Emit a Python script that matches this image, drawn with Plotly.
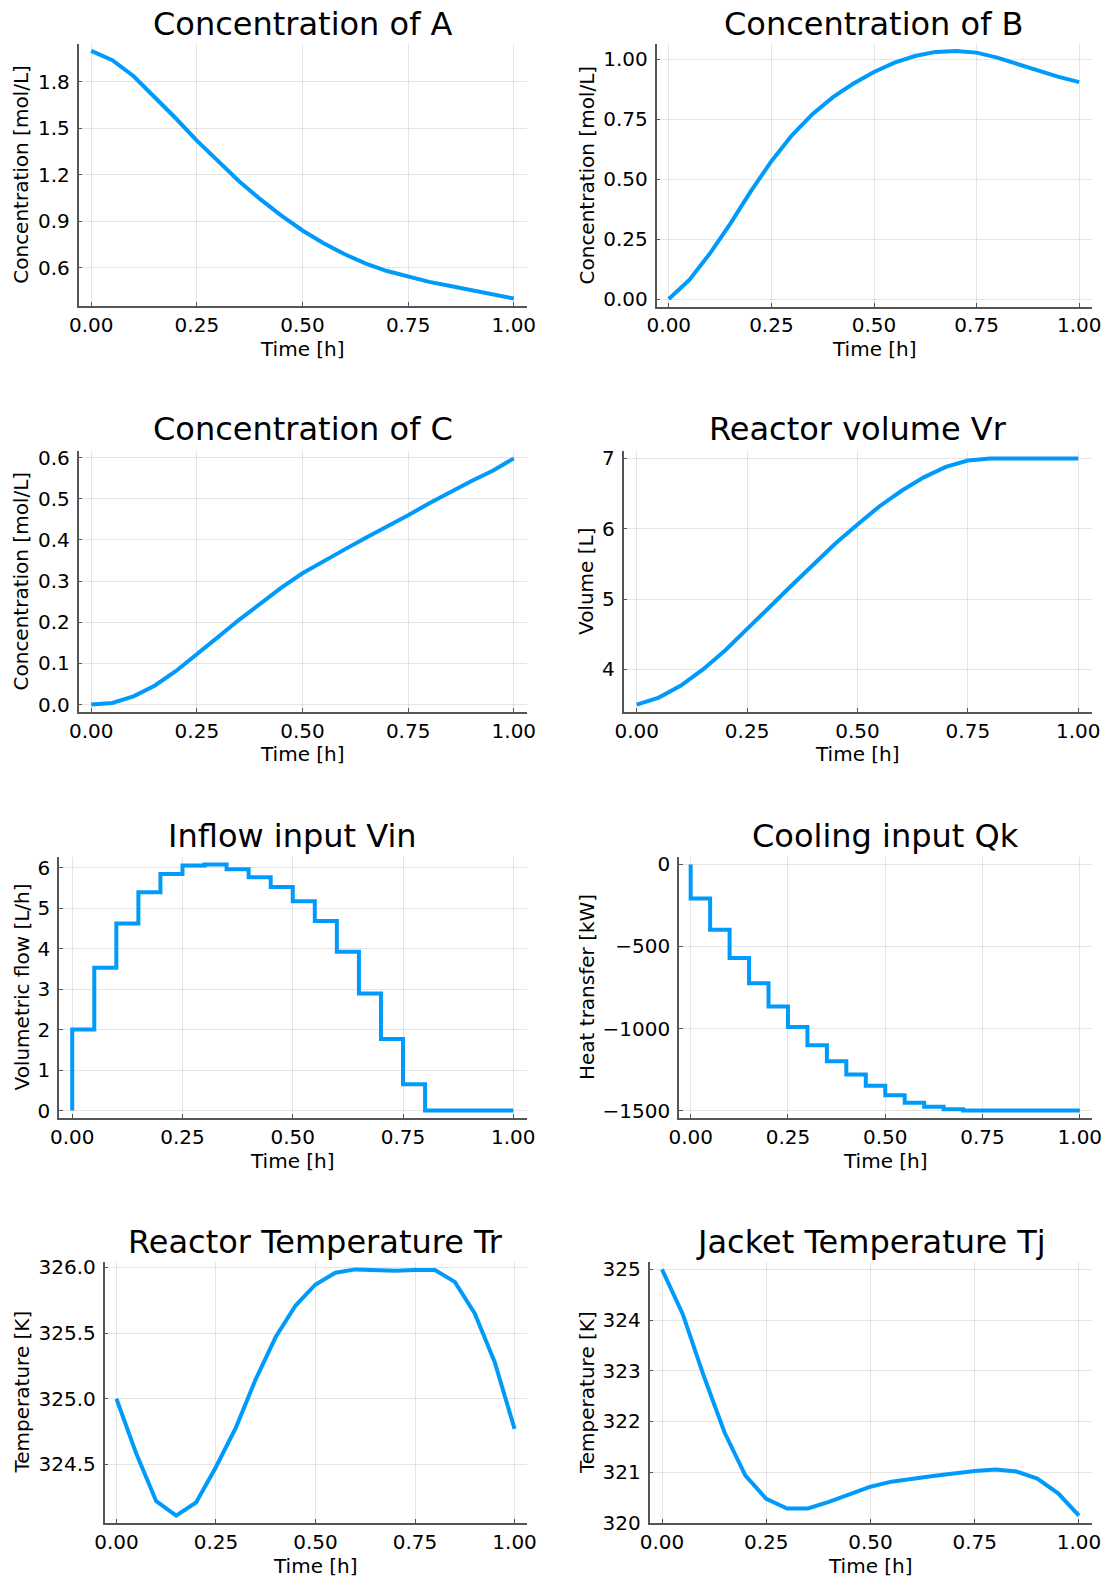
import plotly.graph_objects as go

W, H = 1106, 1580

time = [0.0, 0.05, 0.1, 0.15, 0.2, 0.25, 0.3, 0.35, 0.4, 0.45, 0.5,
        0.55, 0.6, 0.65, 0.7, 0.75, 0.8, 0.85, 0.9, 0.95, 1.0]

conc_A = [2.0, 1.94, 1.838, 1.705, 1.565, 1.42, 1.285, 1.158, 1.042, 0.936, 0.84,
          0.757, 0.686, 0.626, 0.578, 0.54, 0.508, 0.481, 0.456, 0.43, 0.40]
conc_B = [0.0, 0.08, 0.19, 0.315, 0.45, 0.575, 0.683, 0.771, 0.842, 0.899, 0.947,
          0.986, 1.014, 1.031, 1.035, 1.028, 1.007, 0.979, 0.953, 0.927, 0.905]
conc_C = [0.0, 0.004, 0.02, 0.046, 0.081, 0.121, 0.164, 0.206, 0.246, 0.284, 0.319,
          0.349, 0.377, 0.405, 0.432, 0.46, 0.489, 0.517, 0.543, 0.568, 0.598]
volume_Vr = [3.5, 3.6, 3.77, 4.0, 4.27, 4.57, 4.88, 5.19, 5.5, 5.79, 6.06,
             6.32, 6.54, 6.73, 6.88, 6.97, 7.0, 7.0, 7.0, 7.0, 7.0]
inflow_Vin = [0.0, 2.0, 3.53, 4.62, 5.39, 5.84, 6.05, 6.08, 5.96, 5.76, 5.52,
              5.17, 4.68, 3.92, 2.89, 1.77, 0.65, 0.0, 0.0, 0.0, 0.0]
cooling_Qk = [0, -208, -398, -570, -724, -865, -991, -1102, -1199, -1280, -1349,
              -1407, -1452, -1476, -1492, -1500, -1500, -1500, -1500, -1500, -1500]
temp_Tr = [325.0, 324.58, 324.22, 324.11, 324.21, 324.48, 324.78, 325.15, 325.47, 325.71, 325.87,
           325.96, 325.985, 325.98, 325.975, 325.98, 325.98, 325.89, 325.65, 325.28, 324.77]
temp_Tj = [325.0, 324.11, 322.9, 321.78, 320.93, 320.47, 320.28, 320.28, 320.41, 320.56, 320.71,
           320.81, 320.875, 320.92, 320.97, 321.02, 321.05, 321.01, 320.87, 320.58, 320.14]

x_ticks = [0.0, 0.25, 0.5, 0.75, 1.0]
x_ticktext = ["0.00", "0.25", "0.50", "0.75", "1.00"]

titles = ["Concentration of A", "Concentration of B", "Concentration of C", "Reactor volume Vr",
          "Inflow input Vin", "Cooling input Qk", "Reactor Temperature Tr", "Jacket Temperature Tj"]
ylabels = ["Concentration [mol/L]", "Concentration [mol/L]", "Concentration [mol/L]", "Volume [L]",
           "Volumetric flow [L/h]", "Heat transfer [kW]", "Temperature [K]", "Temperature [K]"]
xlabel = "Time [h]"

y_ticks = [
    [0.6, 0.9, 1.2, 1.5, 1.8],
    [0.0, 0.25, 0.5, 0.75, 1.0],
    [0.0, 0.1, 0.2, 0.3, 0.4, 0.5, 0.6],
    [4, 5, 6, 7],
    [0, 1, 2, 3, 4, 5, 6],
    [0, -500, -1000, -1500],
    [324.5, 325.0, 325.5, 326.0],
    [320, 321, 322, 323, 324, 325],
]
y_ticktext = [
    ["0.6", "0.9", "1.2", "1.5", "1.8"],
    ["0.00", "0.25", "0.50", "0.75", "1.00"],
    ["0.0", "0.1", "0.2", "0.3", "0.4", "0.5", "0.6"],
    ["4", "5", "6", "7"],
    ["0", "1", "2", "3", "4", "5", "6"],
    ["0", "\u2212500", "\u22121000", "\u22121500"],
    ["324.5", "325.0", "325.5", "326.0"],
    ["320", "321", "322", "323", "324", "325"],
]

series = [conc_A, conc_B, conc_C, volume_Vr, inflow_Vin, cooling_Qk, temp_Tr, temp_Tj]
shapes_line = ["linear", "linear", "linear", "linear", "vh", "vh", "linear", "linear"]

# plot areas in pixels: (left, right, top, bottom)
boxes = [
    (78.5, 526.5, 43.5, 306), (656.5, 1091.5, 43.5, 306.5),
    (78.5, 526.5, 451, 712), (623.5, 1091.5, 451, 712),
    (59, 526.5, 857, 1118), (679, 1091.5, 857, 1118),
    (104.5, 526.5, 1262, 1523), (649.5, 1091.5, 1262, 1523),
]
title_y = [24.5, 24.5, 429, 429, 836, 836, 1241.5, 1241.5]
xlabel_y = [349, 349, 754, 754, 1161, 1161, 1566, 1566]
ylabel_x = [21, 586.5, 21, 586.5, 21, 586.5, 21, 586.5]

BLUE = "rgb(0,154,250)"
FONT = "DejaVu Sans"

def padded(vals):
    lo, hi = min(vals), max(vals)
    p = 0.03 * (hi - lo)
    return [lo - p, hi + p]

fig = go.Figure()
layout = dict(template="none", width=W, height=H, autosize=False,
              margin=dict(l=0, r=0, t=0, b=0, pad=0, autoexpand=False),
              paper_bgcolor="white", plot_bgcolor="white", showlegend=False,
              font=dict(family=FONT, color="black"))
annotations = []

for i in range(8):
    l, r, tp, bt = boxes[i]
    xa = "xaxis" if i == 0 else f"xaxis{i+1}"
    ya = "yaxis" if i == 0 else f"yaxis{i+1}"
    xr = "x" if i == 0 else f"x{i+1}"
    yr = "y" if i == 0 else f"y{i+1}"
    fig.add_trace(go.Scatter(x=time, y=series[i], mode="lines", xaxis=xr, yaxis=yr,
                             line=dict(color=BLUE, width=4, shape=shapes_line[i]),
                             hoverinfo="skip"))
    common = dict(showgrid=True, gridcolor="rgba(0,0,0,0.1)", gridwidth=1,
                  zeroline=False, showline=True, linecolor="#555555", linewidth=1.5,
                  ticks="inside", ticklen=4, tickwidth=1, tickcolor="#555555",
                  automargin=False,
                  tickfont=dict(size=20, family=FONT, color="black"))
    layout[xa] = dict(common, domain=[l / W, r / W], anchor=yr, range=[-0.03, 1.03],
                      tickmode="array", tickvals=x_ticks, ticktext=x_ticktext)
    layout[ya] = dict(common, domain=[1 - bt / H, 1 - tp / H], anchor=xr,
                      range=padded(series[i]), ticklabelstandoff=3,
                      tickmode="array", tickvals=y_ticks[i], ticktext=y_ticktext[i])
    cx = (l + r) / 2 / W
    annotations.append(dict(text=titles[i], x=cx, y=1 - title_y[i] / H, xref="paper", yref="paper",
                            xanchor="center", yanchor="middle", showarrow=False,
                            font=dict(size=32, family=FONT, color="black")))
    annotations.append(dict(text=xlabel, x=cx, y=1 - xlabel_y[i] / H, xref="paper", yref="paper",
                            xanchor="center", yanchor="middle", showarrow=False,
                            font=dict(size=20, family=FONT, color="black")))
    annotations.append(dict(text=ylabels[i], x=ylabel_x[i] / W, y=1 - (tp + bt) / 2 / H,
                            xref="paper", yref="paper", xanchor="center", yanchor="middle",
                            textangle=-90, showarrow=False,
                            font=dict(size=20, family=FONT, color="black")))

layout["annotations"] = annotations
fig.update_layout(**layout)
fig.write_html("out.html")
